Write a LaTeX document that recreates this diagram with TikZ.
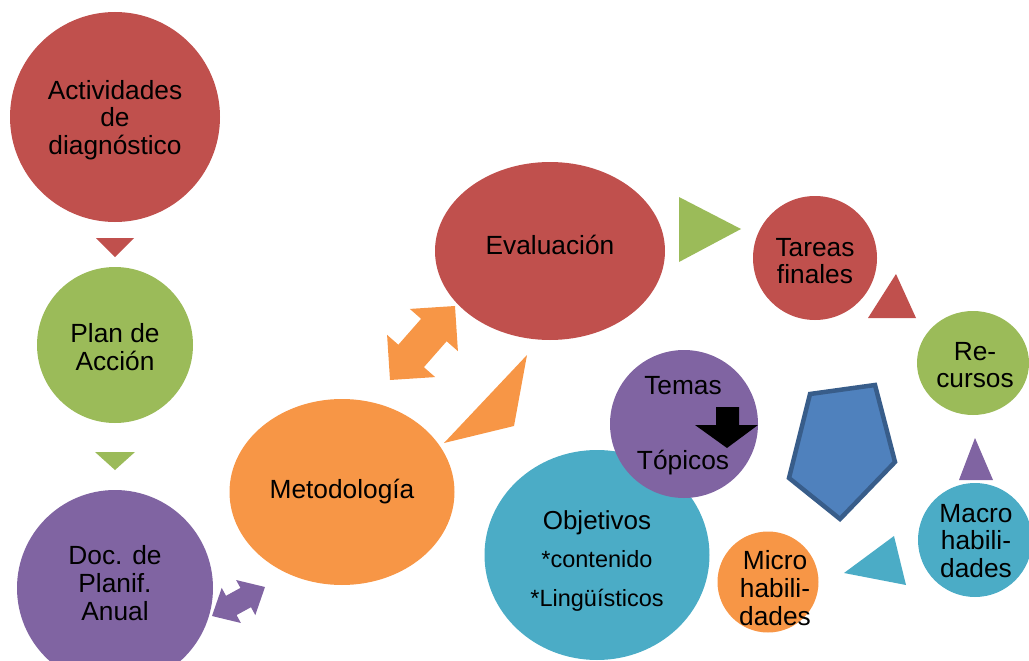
\documentclass[tikz,border=0pt]{standalone}
\usepackage{fontspec}
\setmainfont{Liberation Sans}
\usetikzlibrary{shapes.geometric,calc}

\definecolor{cred}{HTML}{C0504D}
\definecolor{cgreen}{HTML}{9BBB59}
\definecolor{cpurple}{HTML}{8064A2}
\definecolor{corange}{HTML}{F79646}
\definecolor{cteal}{HTML}{4BACC6}
\definecolor{cblue}{HTML}{4F81BD}
\definecolor{cblueline}{HTML}{385D8A}

\tikzset{
  txt/.style={font=\fontsize{26.3}{27.8}\selectfont, text=black, align=center},
  bubble/.style={circle, inner sep=0pt, txt},
  oval/.style={ellipse, inner sep=0pt, txt},
  wedge/.style={draw=none}
}

% double-headed block arrow from tip #1 to tip #2;
% #3 head length, #4 half head width, #5 half shaft width, #6 fill
\newcommand\twowayarrow[6]{%
  \coordinate (tA) at #1;
  \coordinate (tB) at #2;
  \coordinate (hA) at ($(tA)!#3!(tB)$);
  \coordinate (hB) at ($(tB)!#3!(tA)$);
  \fill[#6] (tA) -- ($(hA)!#4!90:(tB)$) -- ($(hA)!#5!90:(tB)$)
    -- ($(hB)!#5!90:(tB)$) -- ($(hB)!#4!90:(tB)$) -- (tB)
    -- ($(hB)!#4!-90:(tB)$) -- ($(hB)!#5!-90:(tB)$)
    -- ($(hA)!#5!-90:(tB)$) -- ($(hA)!#4!-90:(tB)$) -- cycle;
}

\begin{document}
\begin{tikzpicture}[x=1pt,y=-1pt]
\useasboundingbox (0,0) rectangle (1029,661);

% left column
\node[bubble, fill=cred, minimum size=210pt] (diag) at (115,117) {};
\node[txt] (diagtxt) at (115,120) {Actividades\\de\\diagnóstico};
\fill[cred] (96,238) -- (134,238) -- (115,257) -- cycle;
\node[bubble, fill=cgreen, minimum size=156pt] (plan) at (115,345) {};
\node[txt] (plantxt) at (115,347) {Plan de\\Acción};
\fill[cgreen] (95,452) -- (135,452) -- (115,470) -- cycle;
\node[bubble, fill=cpurple, minimum size=196pt] (doc) at (115,588) {};
\node[txt] (doctxt) at (115,583) {Doc. de\\Planif.\\Anual};
\twowayarrow{(212,616)}{(265,587)}{22pt}{20pt}{11pt}{cpurple}

% methodology and evaluation
\node[oval, fill=corange, minimum width=225pt, minimum height=186pt] (met) at (342,492) {Metodología};
\twowayarrow{(390,380)}{(455,306)}{32pt}{32pt}{17pt}{corange}
\fill[corange] (527,355) -- (514,426) -- (444,443) -- cycle;
\node[oval, fill=cred, minimum width=230pt, minimum height=178pt] (eva) at (550,251) {};
\node[txt] (evatxt) at (550,245) {Evaluación};
\fill[cgreen] (679,197) -- (679,262) -- (741,229) -- cycle;

% right-hand cycle
\node[bubble, fill=cred, minimum size=124pt] (tar) at (815,258) {};
\node[txt] (tartxt) at (815,261) {Tareas\\finales};
\fill[cred] (868,318) -- (916,318) -- (896,274) -- cycle;
\node[oval, fill=cgreen, minimum width=112pt, minimum height=104pt] (rec) at (973,363) {};
\node[txt] (rectxt) at (975,365) {Re-\\cursos};
\fill[cpurple] (959,480) -- (993,480) -- (975,438) -- cycle;
\node[bubble, fill=cteal, minimum size=114pt] (mac) at (975,540) {};
\node[txt] (mactxt) at (976,541) {Macro\\habili-\\dades};
\fill[cteal] (844,573) -- (894,536) -- (906,585) -- cycle;
\node[bubble, fill=corange, minimum size=101pt] (mic) at (768,582) {};
\node[txt] (mictxt) at (775,588) {Micro\\habili-\\dades};

\filldraw[fill=cblue, draw=cblueline, line width=4.5pt]
  (810,394) -- (875,385) -- (895,462) -- (840,519) -- (789,478) -- cycle;

% objectives and topics
\node[oval, fill=cteal, minimum width=225pt, minimum height=210pt] (obj) at (597,555) {};
\node[txt, font=\fontsize{26}{38.5}\selectfont] (objtxt) at (597,561)
  {Objetivos\\{\fontsize{23.5}{38.5}\selectfont *contenido}\\{\fontsize{23.5}{38.5}\selectfont *Lingüísticos}};
\node[bubble, fill=cpurple, minimum size=148pt] (tem) at (684,424) {};
\node[txt] (temas) at (683,386) {Temas};
\node[txt] (topicos) at (683,463) {Tópicos};
\fill[black] (716,407) -- (739,407) -- (739,425) -- (758,425) -- (727,448)
  -- (695,425) -- (716,425) -- cycle;
\end{tikzpicture}
\end{document}
